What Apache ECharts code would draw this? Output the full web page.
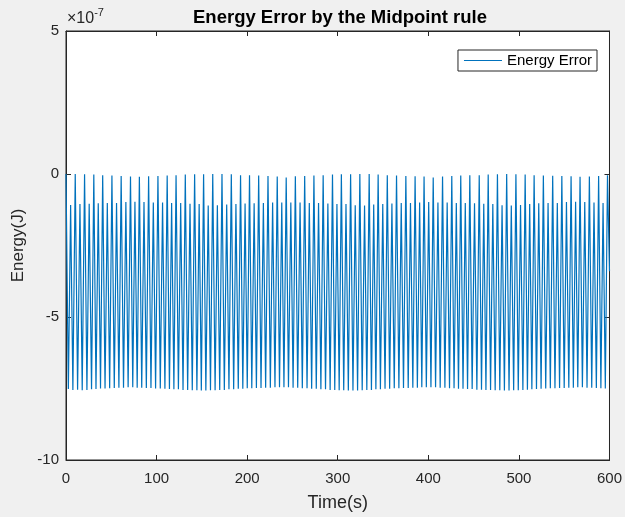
<!DOCTYPE html>
<html>
<head>
<meta charset="utf-8">
<script src="https://cdn.jsdelivr.net/npm/echarts@6/dist/echarts.min.js"></script>
<style>
  html, body { margin: 0; padding: 0; background: #f0f0f0; }
  #chart { width: 625px; height: 517px; }
</style>
</head>
<body>
<div id="chart"></div>
<script>
// Time (s) of each turning point of the curve
const time = [
  0.0, 2.6, 5.1, 7.6,
  10.2, 12.8, 15.4, 17.9,
  20.5, 23.1, 25.6, 28.2,
  30.7, 33.1, 35.6, 38.1,
  40.5, 43.1, 45.6, 48.2,
  50.7, 53.3, 55.8, 58.4,
  60.9, 63.5, 66.1, 68.6,
  71.2, 73.7, 76.1, 78.6,
  81.0, 83.6, 86.1, 88.7,
  91.2, 93.8, 96.4, 98.9,
  101.5, 104.1, 106.6, 109.2,
  111.7, 114.2, 116.6, 119.1,
  121.5, 124.1, 126.6, 129.2,
  131.7, 134.3, 136.9, 139.4,
  142.0, 144.5, 147.0, 149.4,
  151.9, 154.4, 157.0, 159.5,
  162.0, 164.6, 167.1, 169.7,
  172.2, 174.8, 177.4, 179.9,
  182.5, 185.1, 187.6, 190.2,
  192.7, 195.2, 197.7, 200.1,
  202.6, 205.1, 207.7, 210.2,
  212.7, 215.3, 217.9, 220.4,
  223.0, 225.6, 228.1, 230.7,
  233.2, 235.7, 238.2, 240.6,
  243.1, 245.6, 248.2, 250.7,
  253.2, 255.8, 258.4, 260.9,
  263.5, 266.1, 268.6, 271.2,
  273.7, 276.3, 278.8, 281.4,
  283.9, 286.5, 289.1, 291.6,
  294.2, 296.7, 299.1, 301.6,
  304.0, 306.6, 309.1, 311.7,
  314.2, 316.8, 319.3, 321.9,
  324.4, 327.0, 329.6, 332.1,
  334.7, 337.2, 339.7, 342.1,
  344.6, 347.1, 349.7, 352.2,
  354.7, 357.3, 359.8, 362.4,
  364.9, 367.5, 370.1, 372.6,
  375.2, 377.8, 380.3, 382.9,
  385.4, 387.9, 390.4, 392.8,
  395.3, 397.8, 400.4, 402.9,
  405.4, 408.0, 410.6, 413.1,
  415.7, 418.3, 420.8, 423.4,
  425.9, 428.4, 430.9, 433.3,
  435.8, 438.3, 440.8, 443.3,
  445.8, 448.4, 451.0, 453.6,
  456.2, 458.7, 461.2, 463.6,
  466.1, 468.7, 471.2, 473.8,
  476.3, 478.9, 481.4, 484.0,
  486.5, 489.1, 491.6, 494.2,
  496.7, 499.3, 501.8, 504.4,
  506.9, 509.4, 511.9, 514.3,
  516.8, 519.4, 521.9, 524.5,
  527.0, 529.6, 532.2, 534.7,
  537.3, 539.8, 542.4, 544.9,
  547.4, 550.0, 552.5, 555.1,
  557.6, 560.1, 562.6, 565.0,
  567.5, 570.1, 572.7, 575.2,
  577.8, 580.4, 582.9, 585.5,
  588.0, 590.5, 592.9, 595.4,
  597.8, 600.0
];

// Energy error in units of 1e-7 J
const energyE7 = [
  0.00, -7.52, -1.08, -7.55,
  0.00, -7.54, -1.05, -7.56,
  -0.01, -7.55, -1.04, -7.53,
  -0.02, -7.52, -1.02, -7.50,
  -0.04, -7.50, -1.01, -7.49,
  -0.05, -7.48, -1.01, -7.47,
  -0.07, -7.47, -0.98, -7.46,
  -0.09, -7.46, -0.97, -7.47,
  -0.10, -7.47, -0.98, -7.48,
  -0.08, -7.48, -1.00, -7.50,
  -0.07, -7.50, -1.00, -7.51,
  -0.05, -7.52, -1.01, -7.53,
  -0.04, -7.53, -1.01, -7.55,
  -0.02, -7.55, -1.04, -7.56,
  -0.01, -7.56, -1.05, -7.57,
  -0.01, -7.57, -1.10, -7.56,
  0.00, -7.56, -1.09, -7.55,
  0.00, -7.55, -1.07, -7.53,
  -0.01, -7.53, -1.05, -7.51,
  -0.04, -7.51, -1.03, -7.49,
  -0.04, -7.49, -1.02, -7.48,
  -0.05, -7.48, -1.01, -7.47,
  -0.07, -7.47, -1.00, -7.46,
  -0.09, -7.46, -1.00, -7.46,
  -0.12, -7.46, -1.00, -7.47,
  -0.08, -7.47, -1.00, -7.49,
  -0.07, -7.49, -1.01, -7.51,
  -0.05, -7.51, -1.01, -7.53,
  -0.04, -7.53, -1.03, -7.55,
  -0.02, -7.55, -1.05, -7.56,
  -0.01, -7.56, -1.05, -7.57,
  -0.01, -7.57, -1.09, -7.57,
  0.00, -7.56, -1.10, -7.55,
  0.00, -7.55, -1.07, -7.53,
  -0.02, -7.53, -1.05, -7.51,
  -0.04, -7.51, -1.03, -7.49,
  -0.05, -7.49, -1.01, -7.48,
  -0.07, -7.48, -1.01, -7.47,
  -0.08, -7.47, -1.00, -7.46,
  -0.09, -7.46, -0.98, -7.46,
  -0.12, -7.46, -1.00, -7.47,
  -0.09, -7.47, -1.00, -7.49,
  -0.07, -7.49, -1.01, -7.51,
  -0.05, -7.51, -1.01, -7.52,
  -0.04, -7.52, -1.02, -7.54,
  -0.04, -7.54, -1.04, -7.55,
  -0.02, -7.55, -1.05, -7.56,
  -0.01, -7.56, -1.09, -7.57,
  0.00, -7.57, -1.10, -7.56,
  -0.01, -7.56, -1.08, -7.55,
  -0.02, -7.54, -1.05, -7.53,
  -0.04, -7.52, -1.02, -7.51,
  -0.05, -7.50, -1.01, -7.49,
  -0.06, -7.49, -1.01, -7.48,
  -0.07, -7.48, -0.98, -7.47,
  -0.08, -7.47, -0.97, -7.46,
  -0.10, -7.46, -0.98, -7.47,
  -0.09, -7.47, -1.00, -7.48,
  -0.07, -7.49, -1.01, -7.50,
  -0.04, -3.40
];

const xTickValues = [0, 100, 200, 300, 400, 500, 600];
const yTickValues = [-10, -5, 0, 5];
const seriesName = 'Energy Error';
const titleText = 'Energy Error by the Midpoint rule';
const xName = 'Time(s)';
const yName = 'Energy(J)';

const FONT = "'Liberation Sans', Arial, Helvetica, sans-serif";
const AX = '#262626';

const data = time.map((t, i) => [t, energyE7[i]]);

const chart = echarts.init(document.getElementById('chart'), null, { renderer: 'canvas' });

const xMin = xTickValues[0], xMax = xTickValues[xTickValues.length - 1];
const xInt = xTickValues[1] - xTickValues[0];
const yMin = yTickValues[0], yMax = yTickValues[yTickValues.length - 1];
const yInt = yTickValues[1] - yTickValues[0];

const axisCommon = {
  type: 'value',
  splitLine: { show: false },
  axisLine: { show: true, onZero: false, lineStyle: { color: AX, width: 1 } },
  axisTick: { show: true, inside: true, length: 5, lineStyle: { color: AX, width: 1 } }
};

chart.setOption({
  backgroundColor: '#f0f0f0',
  animation: false,
  grid: {
    left: 66, right: 11, top: 31, bottom: 54,
    show: true, backgroundColor: '#ffffff', borderColor: AX, borderWidth: 1
  },
  legend: {
    data: [seriesName],
    right: 28,
    top: 50,
    orient: 'vertical',
    backgroundColor: '#ffffff',
    borderColor: AX,
    borderWidth: 1,
    borderRadius: 0,
    padding: [3, 5, 3, 6],
    itemWidth: 38,
    itemHeight: 1,
    itemGap: 4,
    icon: 'rect',
    textStyle: { fontFamily: FONT, fontSize: 15, color: '#000', padding: [0, 0, 0, 0] }
  },
  xAxis: [
    Object.assign({}, axisCommon, {
      min: xMin, max: xMax, interval: xInt, position: 'bottom',
      axisLabel: { show: true, color: AX, fontFamily: FONT, fontSize: 15, margin: 11 },
      name: xName, nameLocation: 'middle', nameGap: 34,
      nameTextStyle: { fontFamily: FONT, fontSize: 18, color: AX }
    }),
    Object.assign({}, axisCommon, {
      min: xMin, max: xMax, interval: xInt, position: 'top',
      axisLabel: { show: false }
    })
  ],
  yAxis: [
    Object.assign({}, axisCommon, {
      min: yMin, max: yMax, interval: yInt, position: 'left',
      axisLabel: { show: true, color: AX, fontFamily: FONT, fontSize: 15, margin: 7 },
      name: yName, nameLocation: 'middle', nameGap: 38, nameRotate: 90,
      nameTextStyle: { fontFamily: FONT, fontSize: 17, color: AX }
    }),
    Object.assign({}, axisCommon, {
      min: yMin, max: yMax, interval: yInt, position: 'right',
      axisLabel: { show: false }
    })
  ],
  graphic: [
    {
      type: 'text',
      x: 340,
      y: 8,
      style: {
        text: titleText,
        textAlign: 'center',
        textVerticalAlign: 'top',
        fontFamily: FONT, fontWeight: 'bold', fontSize: 18.5, fill: '#000'
      }
    },
    {
      type: 'text',
      left: 67,
      top: 7,
      style: {
        text: '{a|×10}{b|-7}',
        rich: {
          a: { fontFamily: FONT, fontSize: 16, fill: AX, verticalAlign: 'bottom', lineHeight: 20 },
          b: { fontFamily: FONT, fontSize: 11, fill: AX, verticalAlign: 'top', lineHeight: 20, padding: [0, 0, 9, 0] }
        }
      }
    }
  ],
  series: [{
    name: seriesName,
    type: 'line',
    xAxisIndex: 0,
    yAxisIndex: 0,
    data: data,
    showSymbol: false,
    symbol: 'none',
    smooth: false,
    lineStyle: { color: '#0072bd', width: 1.2 },
    itemStyle: { color: '#0072bd' },
    emphasis: { disabled: true }
  }]
});
</script>
</body>
</html>
